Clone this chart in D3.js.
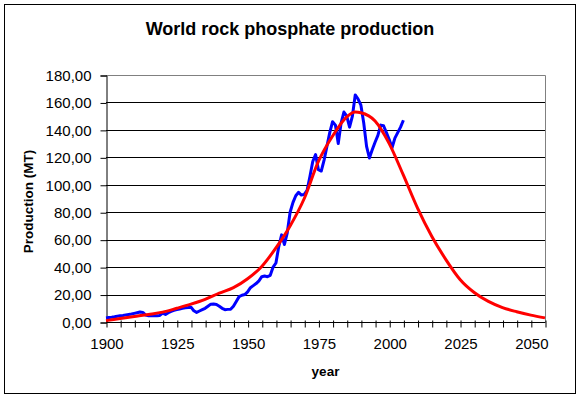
<!DOCTYPE html>
<html>
<head>
<meta charset="utf-8">
<script src="https://cdn.jsdelivr.net/npm/d3@7"></script>
<style>
  html, body { margin: 0; padding: 0; background: #fff; }
  svg { display: block; font-family: "Liberation Sans", Arial, sans-serif; }
</style>
</head>
<body>
<svg id="chart" width="581" height="398"></svg>
<script>
// ---- data ----
const chartTitle = "World rock phosphate production";
const xTitle = "year";
const yTitle = "Production (MT)";

const actualYears = [
  1900,1901,1902,1903,1904,1905,1906,1907,1908,1909,
  1910,1911,1912,1913,1914,1915,1916,1917,1918,1919,
  1920,1921,1922,1923,1924,1925,1926,1927,1928,1929,
  1930,1931,1932,1933,1934,1935,1936,1937,1938,1939,
  1940,1941,1942,1943,1944,1945,1946,1947,1948,1949,
  1950,1951,1952,1953,1954,1955,1956,1957,1958,1959,
  1960,1961,1962,1963,1964,1965,1966,1967,1968,1969,
  1970,1971,1972,1973,1974,1975,1976,1977,1978,1979,
  1980,1981,1982,1983,1984,1985,1986,1987,1988,1989,
  1990,1991,1992,1993,1994,1995,1996,1997,1998,1999,
  2000,2001,2002,2003,2004,2005
];
const actualValues = [
  3.0,3.3,3.5,3.8,4.2,4.5,4.8,5.2,5.5,5.8,
  6.3,6.8,7.3,7.0,5.0,4.6,4.8,4.5,4.6,4.8,
  6.5,5.5,6.8,7.8,8.5,9.0,9.5,10.0,10.3,10.5,
  10.8,8.2,7.0,8.0,9.0,10.0,11.5,13.0,13.1,12.8,
  11.5,10.0,9.0,9.2,9.3,11.5,15.0,18.5,19.5,20.0,
  22.0,25.0,26.5,28.0,30.0,33.0,33.5,33.0,34.0,40.0,
  43.0,55.0,63.5,56.5,65.0,80.0,87.0,92.0,94.5,92.5,
  93.0,96.0,106.0,117.0,122.0,111.0,110.0,118.0,128.0,138.0,
  146.0,143.5,130.0,145.0,153.0,150.0,142.0,150.0,165.5,162.5,
  158.0,145.0,128.0,119.5,125.5,131.0,136.0,143.5,143.0,138.0,
  133.0,127.0,134.0,138.0,142.0,147.0
];

const modelYears = [
  1900,1905,1910,1915,1920,1925,1930,1935,1940,1945,
  1950,1955,1960,1965,1970,1975,1980,1985,1988,1990,
  1995,2000,2005,2010,2015,2020,2025,2030,2035,2040,
  2045,2050,2055
];
const modelValues = [
  1.0,2.5,4.0,5.5,7.2,10.0,13.0,16.5,21.0,25.0,
  31.5,40.5,54.0,70.0,90.0,117.0,135.5,149.5,153.0,152.5,
  146.5,130.0,107.0,83.0,62.5,45.5,31.0,21.5,15.0,10.5,
  7.5,5.0,3.0
];

const xTickLabels = [1900, 1925, 1950, 1975, 2000, 2025, 2050];
const xMinorTicks = d3.range(1900, 2056, 5);
const yTickValues = [0, 20, 40, 60, 80, 100, 120, 140, 160, 180];

// ---- layout ----
const svg = d3.select("#chart");
const plotLeft = 106, plotRight = 545, plotTop = 75, plotBottom = 322;

const x = d3.scaleLinear().domain([1900, 2055]).range([plotLeft, plotRight]);
const y = d3.scaleLinear().domain([0, 180]).range([plotBottom, plotTop]);

// outer frame
svg.append("rect").attr("x", 4.5).attr("y", 4.5).attr("width", 571).attr("height", 389)
  .attr("fill", "#fff").attr("stroke", "#000").attr("stroke-width", 1);

// title
svg.append("text").attr("x", 290).attr("y", 35).attr("text-anchor", "middle")
  .attr("font-size", 18).attr("font-weight", "bold").text(chartTitle);

// gridlines
svg.append("g").selectAll("line").data(yTickValues.filter(v => v > 0 && v < 180)).join("line")
  .attr("x1", plotLeft).attr("x2", plotRight)
  .attr("y1", d => Math.round(y(d)) + 0.5).attr("y2", d => Math.round(y(d)) + 0.5)
  .attr("stroke", "#000").attr("stroke-width", 1);

// plot border top/right (gray)
svg.append("path")
  .attr("d", `M${plotLeft},${plotTop + 0.5}H${plotRight + 0.5}V${plotBottom}`)
  .attr("fill", "none").attr("stroke", "#808080").attr("stroke-width", 1);

// y axis
const yAxis = d3.axisLeft(y).tickValues(yTickValues).tickSize(6).tickPadding(9)
  .tickFormat(d => d3.format(".2f")(d).replace(".", ","));
const gy = svg.append("g").attr("transform", `translate(${plotLeft + 0.5},0.5)`).call(yAxis);
gy.select(".domain").attr("stroke", "#000");
gy.selectAll(".tick line").attr("stroke", "#000");
gy.selectAll("text").attr("font-size", 15).attr("font-family", "Liberation Sans, Arial, sans-serif").attr("fill", "#000");

// x axis minor ticks
const xAxisMinor = d3.axisBottom(x).tickValues(xMinorTicks).tickSize(5).tickFormat("");
const gxm = svg.append("g").attr("transform", `translate(0.5,${plotBottom + 0.5})`).call(xAxisMinor);
gxm.select(".domain").remove();
gxm.selectAll(".tick line").attr("stroke", "#000").attr("y1", -2);

// x axis labels
const xAxis = d3.axisBottom(x).tickValues(xTickLabels).tickSize(0).tickPadding(16)
  .tickFormat(d3.format("d"));
const gx = svg.append("g").attr("transform", `translate(0.5,${plotBottom + 0.5})`).call(xAxis);
gx.select(".domain").attr("stroke", "#000").attr("d", `M${plotLeft},0H${plotRight}`);
gx.selectAll("text").attr("font-size", 15).attr("font-family", "Liberation Sans, Arial, sans-serif").attr("fill", "#000");

// axis titles
svg.append("text").attr("x", (plotLeft + plotRight) / 2).attr("y", 376)
  .attr("text-anchor", "middle").attr("font-size", 13.5).attr("font-weight", "bold").text(xTitle);
svg.append("text").attr("transform", `translate(33,${(plotTop + plotBottom) / 2 + 3}) rotate(-90)`)
  .attr("text-anchor", "middle").attr("font-size", 13.5).attr("font-weight", "bold").text(yTitle);

// lines
const actual = actualYears.map((yr, i) => [yr, actualValues[i]]);
const model = modelYears.map((yr, i) => [yr, modelValues[i]]);

const line = d3.line().x(d => x(d[0])).y(d => y(d[1]));
svg.append("path").datum(actual)
  .attr("d", line).attr("fill", "none").attr("stroke", "#0000ff")
  .attr("stroke-width", 3).attr("stroke-linejoin", "round");

const smooth = d3.line().x(d => x(d[0])).y(d => y(d[1])).curve(d3.curveMonotoneX);
svg.append("path").datum(model)
  .attr("d", smooth).attr("fill", "none").attr("stroke", "#ff0000")
  .attr("stroke-width", 3).attr("stroke-linejoin", "round");
</script>
</body>
</html>
